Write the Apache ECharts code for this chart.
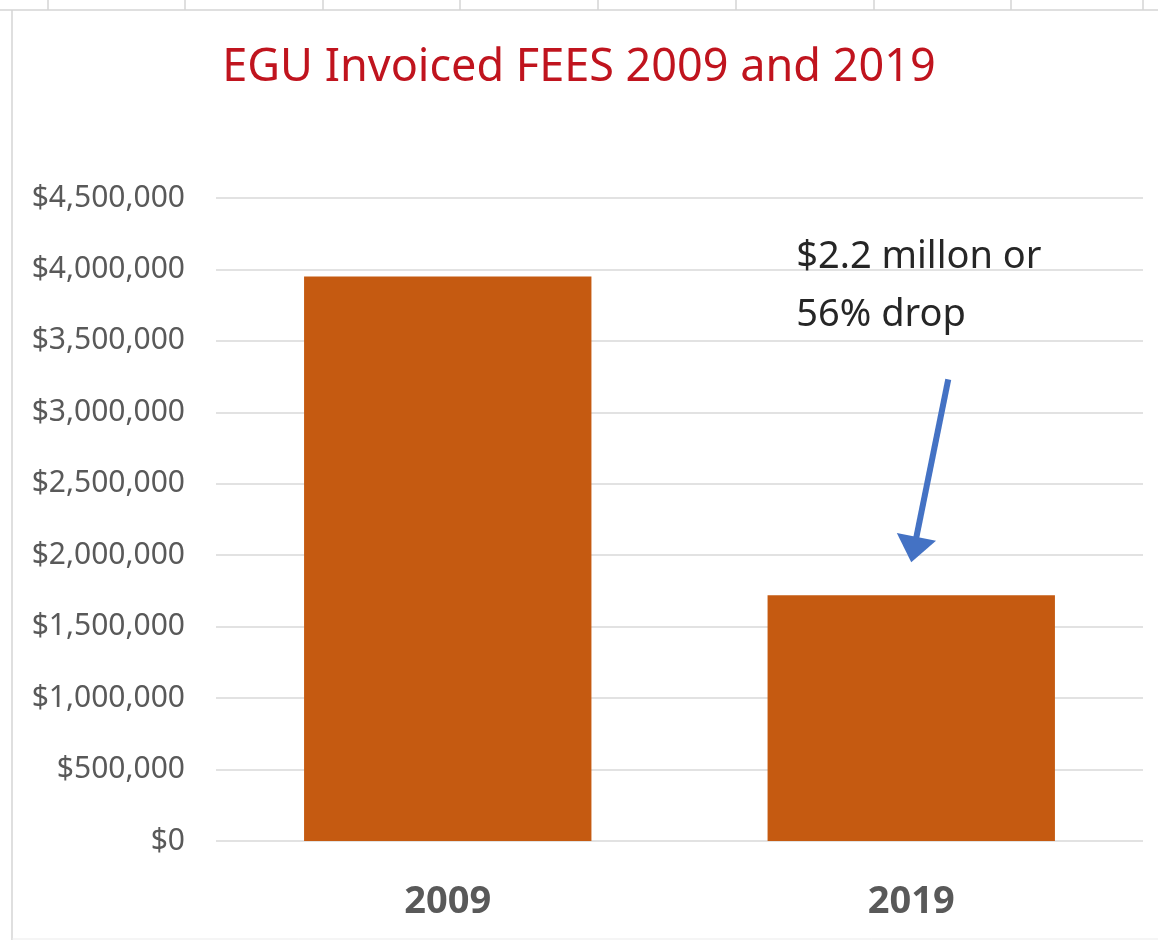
<!DOCTYPE html>
<html>
<head>
<meta charset="utf-8">
<script src="https://cdn.jsdelivr.net/npm/echarts@6/dist/echarts.min.js"></script>
<style>
  html, body { margin: 0; padding: 0; background: #ffffff; }
  #chart { width: 1158px; height: 942px; }
</style>
</head>
<body>
<div id="chart"></div>
<script>
// Invoiced fees by year
const years = ['2009', '2019'];
const fees = [3950000, 1720000];
const yTicks = [0, 500000, 1000000, 1500000, 2000000, 2500000, 3000000, 3500000, 4000000, 4500000];
const noteLines = ['$2.2 millon or', '56% drop'];
// arrow from the note down toward the 2019 bar (category, value)
const arrowFrom = ['2019', 3230000];
const arrowTo = ['2019', 1950000];

const FONT = '"Noto Sans", "Open Sans", sans-serif';
const chart = echarts.init(document.getElementById('chart'), null, { renderer: 'canvas' });

function money(v) {
  return '$' + v.toString().replace(/\B(?=(\d{3})+(?!\d))/g, ',');
}

chart.setOption({
  backgroundColor: '#ffffff',
  animation: false,
  title: {
    text: 'EGU Invoiced FEES 2009 and 2019',
    left: 'center',
    top: 41,
    textStyle: { color: '#C0141E', fontFamily: FONT, fontWeight: 'normal', fontSize: 45 }
  },
  grid: { left: 216, right: 15, top: 198, bottom: 101 },
  xAxis: {
    type: 'category',
    data: years,
    axisLine: { show: false },
    axisTick: { show: false },
    axisLabel: { color: '#595959', fontFamily: FONT, fontWeight: 'bold', fontSize: 38, margin: 42 }
  },
  yAxis: {
    type: 'value',
    min: yTicks[0],
    max: yTicks[yTicks.length - 1],
    interval: yTicks[1] - yTicks[0],
    axisLine: { show: false },
    axisTick: { show: false },
    splitLine: { lineStyle: { color: '#D9D9D9', width: 1.5 } },
    axisLabel: { color: '#595959', fontFamily: FONT, fontSize: 30, margin: 31, formatter: money }
  },
  series: [{
    type: 'bar',
    data: fees,
    barCategoryGap: '38%',
    itemStyle: { color: '#C55A11' }
  }]
});

function drawExtras() {
  const p0 = chart.convertToPixel({ gridIndex: 0 }, arrowFrom);
  const p1 = chart.convertToPixel({ gridIndex: 0 }, arrowTo);
  const start = [p0[0] + 37, p0[1]];
  const tip = [p1[0], p1[1]];
  const dx = tip[0] - start[0], dy = tip[1] - start[1];
  const len = Math.sqrt(dx * dx + dy * dy);
  const ux = dx / len, uy = dy / len;
  const headLen = 26, headHalf = 20;
  const base = [tip[0] - ux * headLen, tip[1] - uy * headLen];
  const nx = -uy, ny = ux;
  const barLeft = chart.convertToPixel({ gridIndex: 0 }, ['2019', 0])[0] - 115;

  chart.setOption({
    graphic: [
      // worksheet frame around the chart
      { type: 'line', shape: { x1: 0, y1: 10, x2: 1158, y2: 10 }, style: { stroke: '#D4D4D4', lineWidth: 1.5 }, silent: true },
      { type: 'line', shape: { x1: 12, y1: 10, x2: 12, y2: 940 }, style: { stroke: '#D4D4D4', lineWidth: 1.5 }, silent: true },
      { type: 'line', shape: { x1: 12, y1: 939, x2: 1158, y2: 939 }, style: { stroke: '#EBEBEB', lineWidth: 1 }, silent: true },
      ...[48, 185, 323, 460, 598, 736, 874, 1011, 1143].map(x => ({
        type: 'line', shape: { x1: x, y1: 0, x2: x, y2: 10 }, style: { stroke: '#D4D4D4', lineWidth: 1.5 }, silent: true
      })),
      {
        type: 'text',
        left: barLeft,
        top: 228,
        style: {
          text: noteLines.join('\n'),
          fill: '#262626',
          font: '38px ' + FONT,
          lineHeight: 58
        },
        silent: true
      },
      {
        type: 'line',
        shape: { x1: start[0], y1: start[1], x2: base[0] + ux * 4, y2: base[1] + uy * 4 },
        style: { stroke: '#4472C4', lineWidth: 6 },
        silent: true
      },
      {
        type: 'polygon',
        shape: { points: [tip, [base[0] + nx * headHalf, base[1] + ny * headHalf], [base[0] - nx * headHalf, base[1] - ny * headHalf]] },
        style: { fill: '#4472C4' },
        silent: true
      }
    ]
  });
}
drawExtras();
</script>
</body>
</html>
